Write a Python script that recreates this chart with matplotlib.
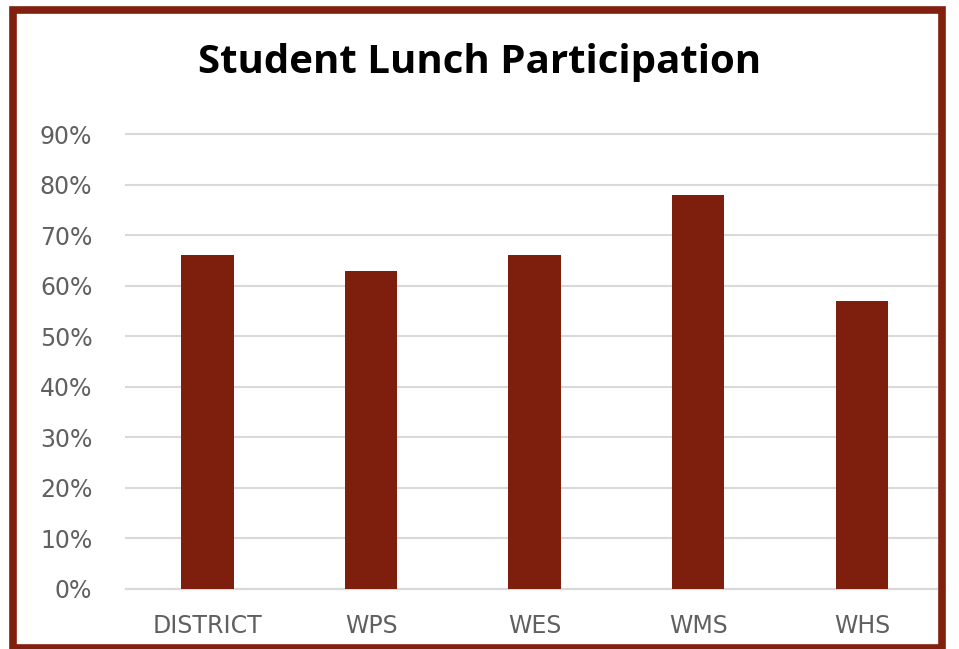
import matplotlib.pyplot as plt
from matplotlib.patches import Rectangle
from matplotlib.ticker import FuncFormatter

# chart data
schools = ["DISTRICT", "WPS", "WES", "WMS", "WHS"]
participation = [0.66, 0.63, 0.66, 0.78, 0.57]
y_ticks = [0.0, 0.1, 0.2, 0.3, 0.4, 0.5, 0.6, 0.7, 0.8, 0.9]

bar_color = '#7E1E0C'
frame_color = '#82200F'

fig = plt.figure(figsize=(9.59, 6.49), dpi=100)
ax = fig.add_axes([0.131, 0.0925, 0.853, 0.701])

ax.bar(schools, participation, width=0.32, color=bar_color, zorder=3)

# axis styling
ax.set_ylim(0, 0.9)
ax.set_xlim(-0.5, len(schools) - 0.5)
ax.set_yticks(y_ticks)
ax.yaxis.set_major_formatter(FuncFormatter(lambda v, pos: f"{v * 100:.0f}%"))
ax.grid(axis='y', color='#d9d9d9', linewidth=1.5, zorder=0)
for line in ax.get_ygridlines():
    line.set_clip_on(False)  # keep the 90% line full width
for side in ['top', 'right', 'left']:
    ax.spines[side].set_visible(False)
ax.spines['bottom'].set_color('#d9d9d9')
ax.spines['bottom'].set_linewidth(1.5)
ax.tick_params(axis='both', length=0, labelsize=17, colors='#606060')
ax.tick_params(axis='y', pad=24)
ax.tick_params(axis='x', pad=18)

fig.text(0.5, 0.903, "Student Lunch Participation", ha='center', va='center',
         fontsize=29, fontweight='bold', family='Open Sans')

# dark red frame round the whole picture
fig.patches.append(Rectangle((0.014, 0.002), 0.968, 0.982, transform=fig.transFigure,
                             fill=False, edgecolor=frame_color, linewidth=5.5))

fig.savefig("out.png", dpi=100)
